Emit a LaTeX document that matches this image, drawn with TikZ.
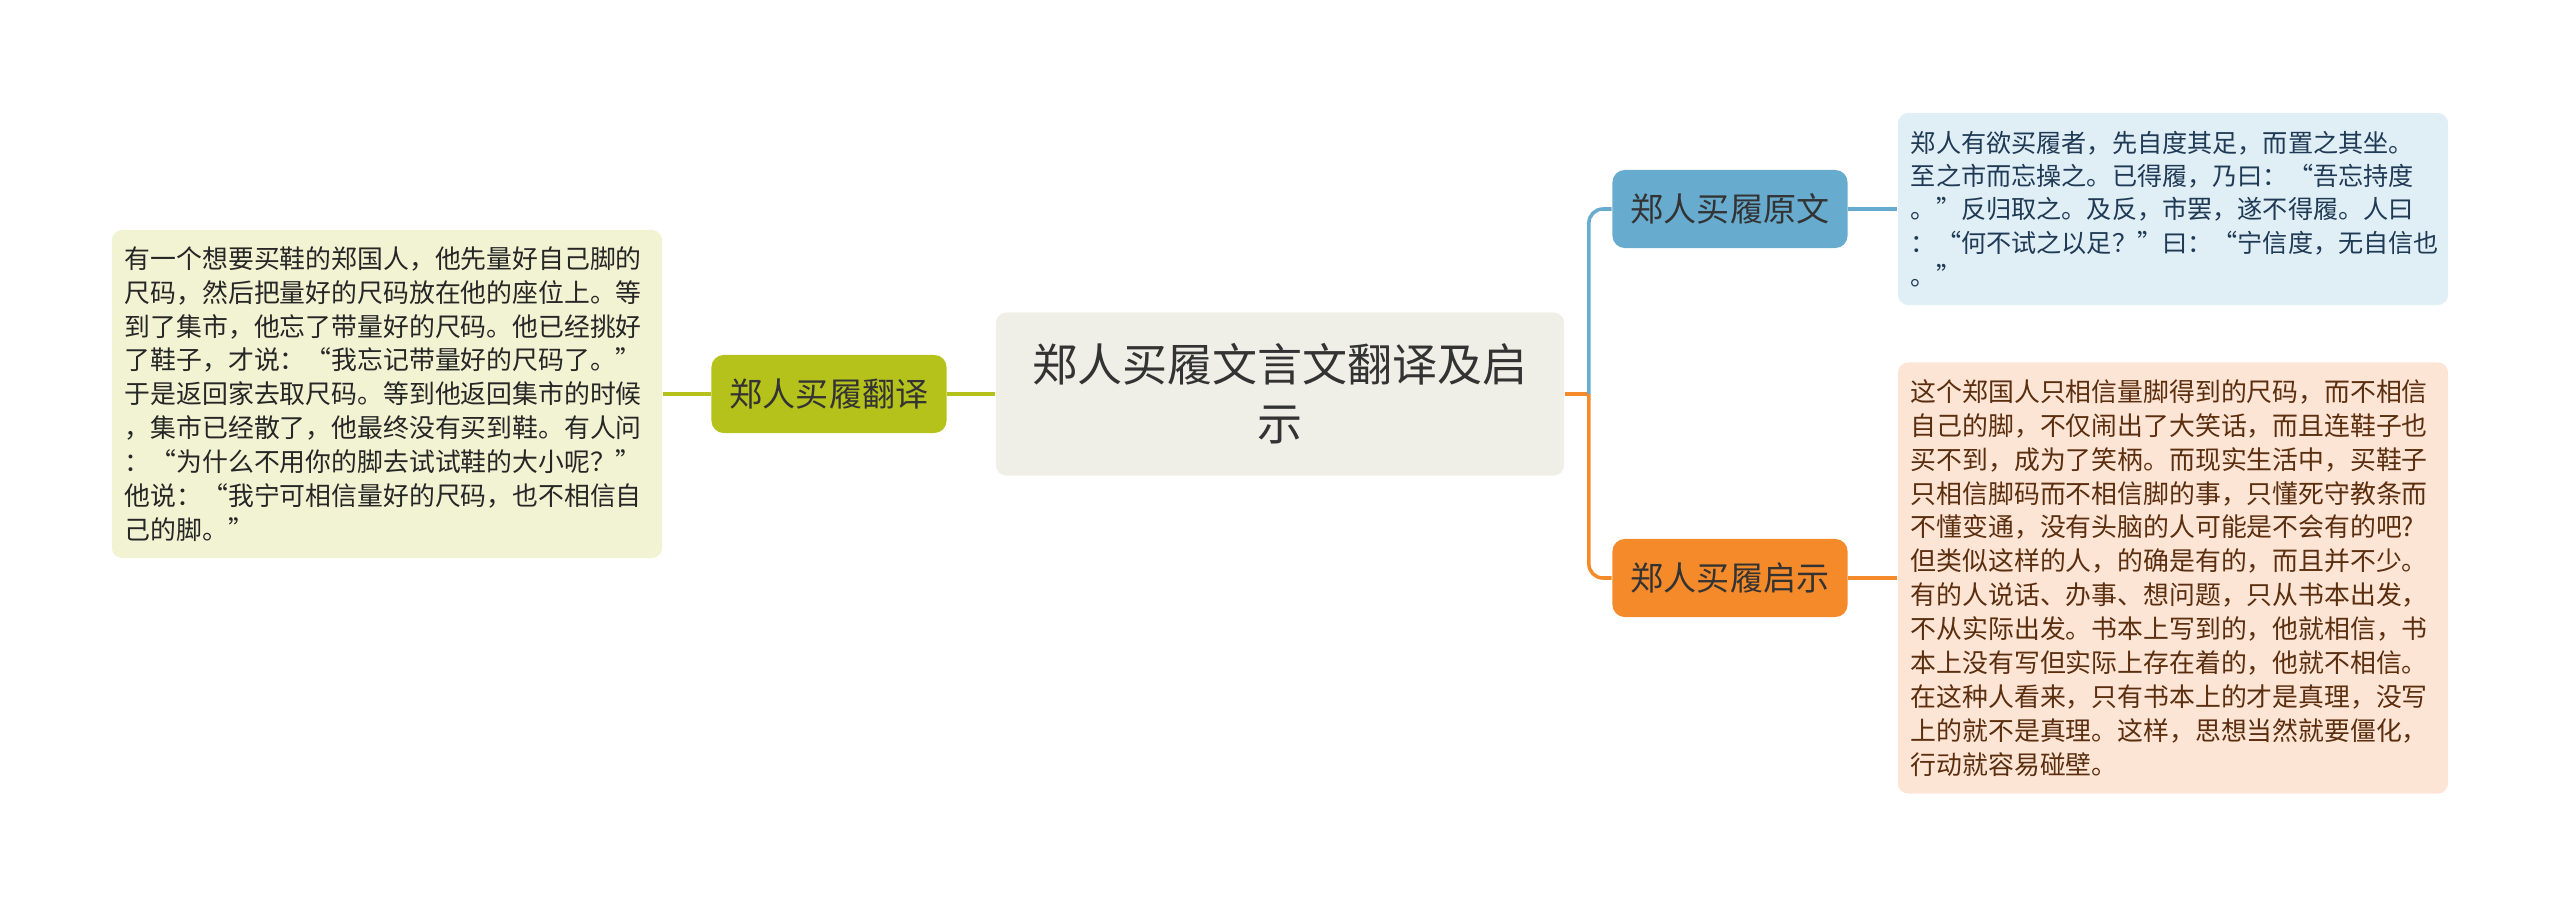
\documentclass[tikz,border=0pt]{standalone}
\usepackage{fontspec}
\setmainfont{Noto Sans CJK SC}
\usetikzlibrary{positioning,calc}
\definecolor{rootfill}{RGB}{239,239,231}
\definecolor{leafgreen}{RGB}{181,194,27}
\definecolor{greenbox}{RGB}{242,243,211}
\definecolor{skyblue}{RGB}{103,172,207}
\definecolor{skybox}{RGB}{224,238,246}
\definecolor{skytext}{RGB}{31,58,85}
\definecolor{tangerine}{RGB}{245,138,42}
\definecolor{peachbox}{RGB}{253,229,213}
\definecolor{peachtext}{RGB}{90,46,14}

\begin{document}
\begin{tikzpicture}[x=0.01cm,y=-0.01cm,
  root/.style={fill=rootfill,rounded corners=3pt,minimum width=5.68cm,minimum height=1.63cm,
    inner sep=0pt,align=center,text=black!80,font=\fontsize{12.8pt}{16.8pt}\selectfont},
  topic/.style={rounded corners=3.5pt,minimum width=2.35cm,minimum height=0.78cm,inner sep=0pt,
    text=black!80,font=\fontsize{9.4pt}{11pt}\selectfont},
  leaf/.style={rounded corners=3pt,inner xsep=0.13cm,inner ysep=0pt,text width=5.24cm,align=left,
    font=\fontsize{7.35pt}{9.65pt}\selectfont},
  link/.style={line width=1pt}]
  \useasboundingbox (0,0) rectangle (2560,906);

  % ===== centre =====
  \node[root] (root) at (1280,394) {郑人买履文言文翻译及启\\示};

  % ===== left branch: translation =====
  \node[topic,fill=leafgreen] (fanyi) at (829,394) {郑人买履翻译};
  \node[leaf,fill=greenbox,text=black!85,minimum height=3.28cm] (fanyitext) at (387,394)
    {有一个想要买鞋的郑国人，他先量好自己脚的\\
     尺码，然后把量好的尺码放在他的座位上。等\\
     到了集市，他忘了带量好的尺码。他已经挑好\\
     了鞋子，才说：“我忘记带量好的尺码了。”\\
     于是返回家去取尺码。等到他返回集市的时候\\
     ，集市已经散了，他最终没有买到鞋。有人问\\
     ：“为什么不用你的脚去试试鞋的大小呢？”\\
     他说：“我宁可相信量好的尺码，也不相信自\\
     己的脚。”};

  % ===== right branches: original text, lesson =====
  \node[topic,fill=skyblue] (yuanwen) at (1730,209) {郑人买履原文};
  \node[leaf,fill=skybox,text=skytext,minimum height=1.92cm,
    font=\fontsize{7.15pt}{9.5pt}\selectfont] (yuanwentext) at (2173,209)
    {郑人有欲买履者，先自度其足，而置之其坐。\\
     至之市而忘操之。已得履，乃曰：“吾忘持度\\
     。”反归取之。及反，市罢，遂不得履。人曰\\
     ：“何不试之以足？”曰：“宁信度，无自信也\\
     。”};
  \node[topic,fill=tangerine] (qishi) at (1730,578) {郑人买履启示};
  \node[leaf,fill=peachbox,text=peachtext,minimum height=4.31cm] (qishitext) at (2173,578)
    {这个郑国人只相信量脚得到的尺码，而不相信\\
     自己的脚，不仅闹出了大笑话，而且连鞋子也\\
     买不到，成为了笑柄。而现实生活中，买鞋子\\
     只相信脚码而不相信脚的事，只懂死守教条而\\
     不懂变通，没有头脑的人可能是不会有的吧?\\
     但类似这样的人，的确是有的，而且并不少。\\
     有的人说话、办事、想问题，只从书本出发，\\
     不从实际出发。书本上写到的，他就相信，书\\
     本上没有写但实际上存在着的，他就不相信。\\
     在这种人看来，只有书本上的才是真理，没写\\
     上的就不是真理。这样，思想当然就要僵化，\\
     行动就容易碰壁。};

  % ===== connectors =====
  \draw[link,leafgreen] (root.west) -- (fanyi.east);
  \draw[link,leafgreen] (fanyi.west) -- (fanyitext.east);
  \coordinate (bus) at ($(root.east)+(24,0)$);
  \draw[link,tangerine] (root.east) -- (bus);
  \draw[link,skyblue,rounded corners=4pt] (bus) |- (yuanwen.west);
  \draw[link,tangerine,rounded corners=4pt] (bus) |- (qishi.west);
  \draw[link,skyblue] (yuanwen.east) -- (yuanwentext.west);
  \draw[link,tangerine] (qishi.east) -- (qishitext.west);
\end{tikzpicture}
\end{document}
